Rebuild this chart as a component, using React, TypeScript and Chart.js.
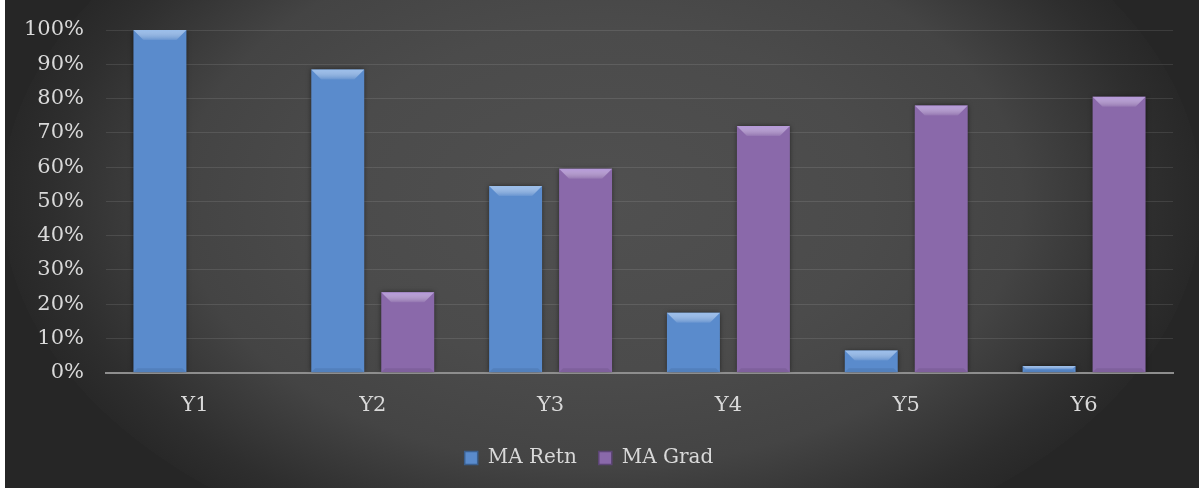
import React, { useEffect, useRef } from "react";
import { Chart, registerables } from "chart.js";

Chart.register(...registerables);

const categories = ["Y1", "Y2", "Y3", "Y4", "Y5", "Y6"];
const maRetn = [100, 88.5, 54.5, 17.5, 6.5, 2];
const maGrad = [0, 23.5, 59.5, 72, 78, 80.5];
const seriesNames = ["MA Retn", "MA Grad"];
const yTicks = [0, 10, 20, 30, 40, 50, 60, 70, 80, 90, 100];

const FONT = "'DejaVu Serif', serif";
const TEXT = "#d9d9d9";

const bevelPlugin = {
  id: "bevel",
  beforeDatasetsDraw(chart: any) {
    const ctx = chart.ctx;
    ctx.save();
    ctx.shadowColor = "rgba(0,0,0,0.6)";
    ctx.shadowBlur = 5;
    ctx.shadowOffsetX = 0;
    ctx.shadowOffsetY = 0;
  },
  afterDatasetsDraw(chart: any) {
    const ctx = chart.ctx;
    ctx.restore();
    const lights = ["rgba(165,198,240,0.85)", "rgba(188,160,226,0.85)"];
    chart.data.datasets.forEach((ds: any, di: number) => {
      const meta = chart.getDatasetMeta(di);
      meta.data.forEach((bar: any) => {
        const p = bar.getProps(["x", "y", "base", "width"], true);
        const h = p.base - p.y;
        if (h < 0.5) return;
        const l = p.x - p.width / 2;
        const r = p.x + p.width / 2;
        const t = p.y;
        const b = Math.min(10, h / 2);
        ctx.save();
        const g = ctx.createLinearGradient(0, t, 0, t + b);
        g.addColorStop(0, lights[di]);
        g.addColorStop(1, "rgba(255,255,255,0.08)");
        ctx.fillStyle = g;
        ctx.beginPath();
        ctx.moveTo(l, t);
        ctx.lineTo(r, t);
        ctx.lineTo(r - b, t + b);
        ctx.lineTo(l + b, t + b);
        ctx.closePath();
        ctx.fill();
        const bb = Math.min(4, h / 3);
        ctx.fillStyle = "rgba(0,0,0,0.08)";
        ctx.beginPath();
        ctx.moveTo(l, p.base);
        ctx.lineTo(r, p.base);
        ctx.lineTo(r - bb, p.base - bb);
        ctx.lineTo(l + bb, p.base - bb);
        ctx.closePath();
        ctx.fill();
        ctx.restore();
      });
    });
  },
};

export default function App() {
  const ref = useRef<HTMLCanvasElement>(null);
  useEffect(() => {
    const chart = new Chart(ref.current!, {
      type: "bar",
      data: {
        labels: categories,
        datasets: [
          {
            label: seriesNames[0],
            data: maRetn,
            backgroundColor: "#5a8bcc",
            borderColor: "#3b5f8e",
            borderWidth: 0,
          },
          {
            label: seriesNames[1],
            data: maGrad,
            backgroundColor: "#8a69aa",
            borderColor: "#5d4676",
            borderWidth: 0,
          },
        ],
      },
      options: {
        animation: false,
        responsive: false,
        maintainAspectRatio: false,
        layout: { padding: { top: 30, right: 26, left: 0, bottom: 10 } },
        datasets: {
          bar: { categoryPercentage: 0.787, barPercentage: 0.757 },
        },
        scales: {
          x: {
            grid: { display: false, drawTicks: false },
            border: { display: true, color: "#8e8e8e", width: 2 },
            ticks: { color: TEXT, font: { family: FONT, size: 21 }, padding: 20 },
            afterFit: (s: any) => {
              s.height = s.height - 12;
            },
          },
          y: {
            min: 0,
            max: 100,
            afterBuildTicks: (s: any) => {
              s.ticks = yTicks.map((v) => ({ value: v }));
            },
            afterFit: (s: any) => {
              s.width = 101;
              s.paddingTop = 0;
              s.paddingBottom = 0;
            },
            grid: { color: "rgba(255,255,255,0.1)", lineWidth: 1, drawTicks: false },
            border: { display: false },
            ticks: {
              color: TEXT,
              font: { family: FONT, size: 21 },
              padding: 22,
              callback: (v: any) => v + "%",
            },
          },
        },
        plugins: {
          legend: {
            position: "bottom",
            labels: {
              color: TEXT,
              font: { family: FONT, size: 20 },
              boxWidth: 13,
              boxHeight: 13,
              padding: 22,
              generateLabels: (c: any) =>
                c.data.datasets.map((ds: any, i: number) => ({
                  text: ds.label,
                  fillStyle: ds.backgroundColor,
                  strokeStyle: ds.borderColor,
                  lineWidth: 1.5,
                  fontColor: TEXT,
                  hidden: false,
                  datasetIndex: i,
                })),
            },
          },
          tooltip: { enabled: false },
        },
      },
      plugins: [bevelPlugin],
    });
    return () => chart.destroy();
  }, []);
  return (
    <div
      style={{
        position: "absolute",
        left: 5,
        top: 0,
        width: 1194,
        height: 488,
        background:
          "radial-gradient(ellipse 600px 380px at 50% 41%, #505050 0%, #4b4b4b 45%, #444444 70%, #2e2e2e 92%, #282828 100%, #262626 100%)",
      }}
    >
      <canvas ref={ref} width={1194} height={488} style={{ display: "block" }} />
    </div>
  );
}
